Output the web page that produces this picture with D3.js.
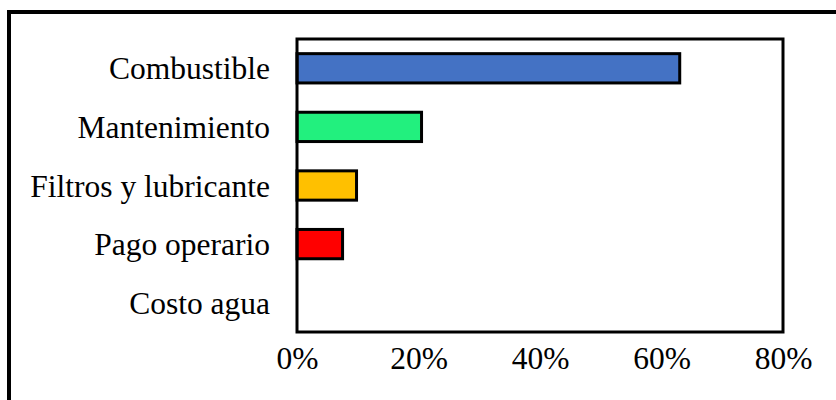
<!DOCTYPE html>
<html>
<head>
<meta charset="utf-8">
<script src="https://cdn.jsdelivr.net/npm/d3@7"></script>
<style>
  html, body { margin: 0; padding: 0; background: #fff; }
  svg { display: block; }
</style>
</head>
<body>
<svg id="chart" width="836" height="400"></svg>
<script>
// Cost breakdown (share of total cost)
const categories = ["Combustible", "Mantenimiento", "Filtros y lubricante", "Pago operario", "Costo agua"];
const values = [0.63, 0.205, 0.098, 0.075, 0];
const colors = ["#4472C4", "#22F07E", "#FFC000", "#FF0000", "#A5A5A5"];
const tickValues = [0, 0.2, 0.4, 0.6, 0.8];

const svg = d3.select("#chart");
const W = 836, H = 400;
const plot = { left: 297, top: 39, right: 783, bottom: 332 };

// Outer frame
svg.append("rect")
  .attr("x", 9).attr("y", 12)
  .attr("width", W + 10).attr("height", H + 10)
  .attr("fill", "none").attr("stroke", "#000").attr("stroke-width", 4);

const x = d3.scaleLinear().domain([0, 0.8]).range([plot.left, plot.right]);
const y = d3.scaleBand().domain(categories).range([plot.top, plot.bottom]).paddingInner(0.5).paddingOuter(0.25);

const font = "'Liberation Serif', 'Times New Roman', serif";

// Bars
svg.append("g").selectAll("rect")
  .data(categories)
  .join("rect")
  .attr("x", x(0))
  .attr("y", d => y(d))
  .attr("width", (d, i) => x(values[i]) - x(0))
  .attr("height", y.bandwidth())
  .attr("fill", (d, i) => colors[i])
  .attr("stroke", "#000")
  .attr("stroke-width", (d, i) => values[i] > 0 ? 3 : 0);

// Plot frame
svg.append("rect")
  .attr("x", plot.left).attr("y", plot.top)
  .attr("width", plot.right - plot.left).attr("height", plot.bottom - plot.top)
  .attr("fill", "none").attr("stroke", "#000").attr("stroke-width", 3);

// Category axis
const yAxis = d3.axisLeft(y).tickSize(0).tickPadding(27);
const gy = svg.append("g").attr("transform", `translate(${plot.left},1)`).call(yAxis);
gy.select(".domain").remove();
gy.selectAll("text")
  .attr("font-family", font).attr("font-size", 31.5).attr("fill", "#000");

// Value axis
const xAxis = d3.axisBottom(x).tickValues(tickValues).tickFormat(d3.format(".0%")).tickSize(0).tickPadding(15);
const gx = svg.append("g").attr("transform", `translate(0,${plot.bottom})`).call(xAxis);
gx.select(".domain").remove();
gx.selectAll("text")
  .attr("font-family", font).attr("font-size", 31.5).attr("fill", "#000");
</script>
</body>
</html>
